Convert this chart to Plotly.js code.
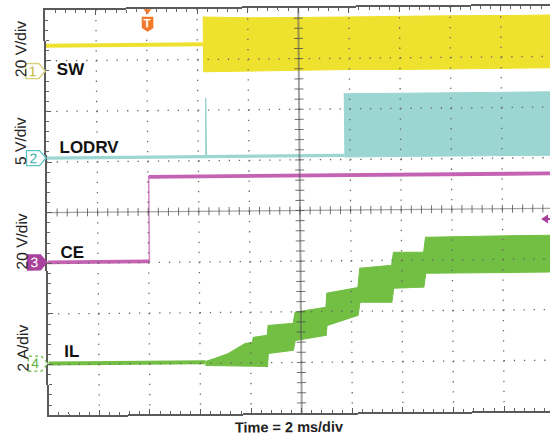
<!DOCTYPE html>
<html><head><meta charset="utf-8">
<script src="https://cdn.plot.ly/plotly-3.0.1.min.js"></script>
<style>
html,body{margin:0;padding:0;background:#fff;overflow:hidden;width:550px;height:439px;}
#wrap{width:550px;height:439px;overflow:hidden;position:relative;background:#fff;}
#chart{width:556px;height:439px;transform:rotate(-0.5deg);transform-origin:300px 210px;}
</style></head><body><div id="wrap"><div id="chart"></div></div>
<script>
// ---- scope settings ----
const timePerDiv = 2;              // ms/div
const trigT = 4.04;                // ms, trigger time
const trigLevelCE = 15.4;          // V on CE channel
const chNames  = ['SW', 'LODRV', 'CE', 'IL'];
const chUnits  = ['20 V/div', '5 V/div', '20 V/div', '2 A/div'];
const chScale  = [20, 5, 20, 2];   // units per div
const chOffset = [2.8, 1.08, -0.98, -2.98]; // ground position, div

// ---- SW (V) ----
const swLowT  = [0, 6.22];
const swLowV  = [10, 10];
const swBandT  = [6.22, 7, 8, 10, 12, 14, 16, 18, 20];
const swBandHi = [20.8, 20.5, 20.3, 20.3, 20.4, 20.3, 20.4, 20.3, 20.4];
const swBandLo = [-0.9, -0.7, -0.6, -0.6, -0.5, -0.6, -0.5, -0.6, -0.5];

// ---- LODRV (V) ----
const lodrvT = [0, 11.77];
const lodrvV = [0, 0];
const lodrvSpikeT = [6.30, 6.31, 6.32];
const lodrvSpikeV = [0, 5.8, 0];
const lodrvBandT  = [11.77, 14, 17, 20];
const lodrvBandHi = [6.1, 6.1, 6.1, 6.1];
const lodrvBandLo = [-0.15, -0.15, -0.15, -0.15];

// ---- CE (V) ----
const ceT = [0, 4.03, 4.03, 20];
const ceV = [0, 0, 33.4, 33.4];

// ---- IL (A) ----
const ilT = [0, 6.21];
const ilV = [0, 0];
const ilHiT = [6.21, 6.61, 7.12, 7.79, 8.07, 8.11, 8.66, 8.70, 9.69, 9.77, 10.99, 11.03, 12.26, 12.34, 13.6, 13.68, 14.87, 14.95, 20];
const ilHi  = [0.03, 0.15, 0.34, 0.73, 0.77, 0.96, 1.04, 1.43, 1.51, 1.94, 2.13, 2.68, 2.90, 3.66, 3.77, 4.28, 4.27, 4.86, 4.90];
const ilLoT = [6.21, 8.66, 8.70, 9.69, 9.77, 10.99, 11.03, 12.26, 12.34, 13.6, 13.68, 14.87, 14.95, 20];
const ilLo  = [-0.13, -0.19, 0.32, 0.44, 0.83, 1.02, 1.41, 1.80, 2.31, 2.30, 2.86, 2.89, 3.44, 3.44];

// ---- styling ----
const colors = ['#efe22e', '#9bd6d3', '#c563b3', '#72bf44'];
const L = 47, T = 8, PW = 506, PH = 405, W = 556, H = 439;
const FONT = 'Liberation Sans, Arial, sans-serif';

function toDiv(ch, arr) { return arr.map(v => v === null ? null : v / chScale[ch] + chOffset[ch]); }
function band(ch, tHi, hi, tLo, lo) {
  return {
    x: tHi.concat(tLo.slice().reverse()),
    y: toDiv(ch, hi).concat(toDiv(ch, lo).slice().reverse()),
    mode: 'lines', fill: 'toself', fillcolor: colors[ch],
    line: {color: colors[ch], width: 1}, hoverinfo: 'skip', showlegend: false
  };
}
function line(ch, t, v, w, color) {
  return {x: t, y: toDiv(ch, v), mode: 'lines', line: {color: color || colors[ch], width: w},
          hoverinfo: 'skip', showlegend: false, connectgaps: false};
}
// split a stepped trace at its vertical edges (thin edge, thick levels)
function levelsOnly(t, v) {
  const xt = [], yv = [];
  for (let i = 0; i < t.length; i++) {
    if (i > 0 && t[i] === t[i - 1]) { xt.push(null); yv.push(null); }
    xt.push(t[i]); yv.push(v[i]);
  }
  return [xt, yv];
}
const xEnd = 10 * timePerDiv;
const ceLv = levelsOnly(ceT, ceV);
const traces = [
  line(0, swLowT, swLowV, 4),
  band(0, swBandT, swBandHi, swBandT, swBandLo),
  line(1, lodrvSpikeT, lodrvSpikeV, 1.3, '#8fd0cd'),
  line(1, lodrvT, lodrvV, 3.2),
  band(1, lodrvBandT, lodrvBandHi, lodrvBandT, lodrvBandLo),
  line(2, ceT, ceV, 1.6, '#d58cc8'),
  line(2, ceLv[0], ceLv[1], 3.8),
  line(3, ilT, ilV, 4),
  band(3, ilHiT, ilHi, ilLoT, ilLo)
];

// pixel helpers for decorations (unrotated frame)
const pxX = p => (p - L) / PW;
const pxY = p => (T + PH - p) / PH;

const shapes = [];
// dotted graticule, drawn above the traces like the scope does
const dotDash = '1.3px,8.82px';
for (let i = 1; i < 10; i++) {
  if (i === 5) continue;
  const xv = i * timePerDiv;
  shapes.push({type: 'line', xref: 'x', yref: 'y', x0: xv, x1: xv, y0: 4, y1: -4,
               line: {color: '#666', width: 1.3, dash: dotDash}, layer: 'above'});
}
for (let j = -3; j <= 3; j++) {
  if (j === 0) continue;
  shapes.push({type: 'line', xref: 'x', yref: 'y', x0: 0, x1: xEnd, y0: j, y1: j,
               line: {color: '#666', width: 1.3, dash: dotDash}, layer: 'above'});
}
// center crosshair
shapes.push({type: 'line', xref: 'x', yref: 'paper', x0: xEnd / 2, x1: xEnd / 2, y0: 0, y1: 1,
             line: {color: 'rgba(90,90,90,0.55)', width: 2}, layer: 'above'});
shapes.push({type: 'line', xref: 'paper', yref: 'y', x0: 0, x1: 1, y0: 0, y1: 0,
             line: {color: 'rgba(90,90,90,0.55)', width: 1.2}, layer: 'above'});
for (let k = 1; k < 50; k++) {
  const xv = k * timePerDiv / 5;
  shapes.push({type: 'line', xref: 'x', yref: 'y', ysizemode: 'pixel', yanchor: 0,
               x0: xv, x1: xv, y0: -4, y1: 4, line: {color: 'rgba(70,70,70,0.75)', width: 1}, layer: 'above'});
}
for (let k = -19; k < 20; k++) {
  const yv = k / 5;
  shapes.push({type: 'line', xref: 'x', yref: 'y', xsizemode: 'pixel', xanchor: xEnd / 2,
               x0: -4.5, x1: 4.5, y0: yv, y1: yv, line: {color: 'rgba(70,70,70,0.75)', width: 1}, layer: 'above'});
}
// channel ground markers
const markerStyles = [
  {fill: '#ffffff', line: '#d9d07a', dash: 'solid', text: '#c4b840'},
  {fill: '#ffffff', line: '#5cc6c4', dash: 'solid', text: '#3bb2b0'},
  {fill: '#a8429c', line: '#a8429c', dash: 'solid', text: '#ffffff'},
  {fill: '#ffffff', line: '#6cc04a', dash: 'dot', text: '#5cb43c'}
];
const annotations = [];
for (let c = 0; c < 4; c++) {
  const yp = (chOffset[c] + 4) / 8;
  const s = markerStyles[c];
  shapes.push({type: 'path', xref: 'paper', yref: 'paper', xsizemode: 'pixel', ysizemode: 'pixel',
               xanchor: 0, yanchor: yp, path: 'M -20,-7.5 H -7 L -0.5,0 L -7,7.5 H -20 Z',
               fillcolor: s.fill, line: {color: s.line, width: 1.3, dash: s.dash}, layer: 'above'});
  annotations.push({xref: 'paper', yref: 'paper', x: 0, y: yp, xshift: -13, yshift: 0,
                    text: String(c + 1), showarrow: false, xanchor: 'center', yanchor: 'middle',
                    font: {family: FONT, size: 14, color: s.text}});
}
// trigger marker
const orange = '#f07a2a';
shapes.push({type: 'path', xref: 'x', yref: 'paper', xsizemode: 'pixel', ysizemode: 'pixel',
             xanchor: trigT, yanchor: 1, path: 'M -4,0 H 4 L 0,-5 Z', fillcolor: orange, line: {width: 0}, layer: 'above'});
shapes.push({type: 'path', xref: 'x', yref: 'paper', xsizemode: 'pixel', ysizemode: 'pixel',
             xanchor: trigT, yanchor: 1, path: 'M -5.8,-7.4 H 5.8 V -18.7 L 0,-22.4 L -5.8,-18.7 Z',
             fillcolor: orange, line: {width: 0}, layer: 'above'});
annotations.push({xref: 'x', yref: 'paper', x: trigT, y: 1, yshift: -13.5, text: '<b>T</b>', showarrow: false,
                  xanchor: 'center', yanchor: 'middle', font: {family: FONT, size: 12, color: '#ffffff'}});
// trigger level arrow (CE)
const trigY = (trigLevelCE / chScale[2] + chOffset[2] + 4) / 8;
shapes.push({type: 'path', xref: 'paper', yref: 'paper', xsizemode: 'pixel', ysizemode: 'pixel',
             xanchor: 1, yanchor: trigY, path: 'M -12,0 L -5,4.5 L -5,-4.5 Z', fillcolor: '#a8429c',
             line: {width: 0}, layer: 'above'});
shapes.push({type: 'line', xref: 'paper', yref: 'paper', xsizemode: 'pixel', ysizemode: 'pixel',
             xanchor: 1, yanchor: trigY, x0: -6, x1: 2, y0: 0, y1: 0, line: {color: '#a8429c', width: 2}, layer: 'above'});

// channel name labels
const labelPos = [[56, 67], [57.5, 145], [58, 250], [60.5, 349]];
for (let c = 0; c < 4; c++) {
  annotations.push({xref: 'paper', yref: 'paper', x: pxX(labelPos[c][0]), y: pxY(labelPos[c][1]),
                    text: '<b>' + chNames[c] + '</b>', showarrow: false, xanchor: 'left', yanchor: 'middle',
                    font: {family: FONT, size: 17, color: '#111'}});
}
// scale labels (rotated)
const unitPos = [47, 139, 239.5, 345.5];
for (let c = 0; c < 4; c++) {
  annotations.push({xref: 'paper', yref: 'paper', x: pxX(21.5), y: pxY(unitPos[c]),
                    text: chUnits[c], showarrow: false, textangle: -90, xanchor: 'center', yanchor: 'middle',
                    font: {family: FONT, size: 15.5, color: '#222'}});
}
annotations.push({xref: 'paper', yref: 'paper', x: pxX(287), y: pxY(427), showarrow: false,
                  text: '<b>Time = ' + timePerDiv + ' ms/div</b>', xanchor: 'center', yanchor: 'middle',
                  font: {family: FONT, size: 14.5, color: '#222'}});

const axCommon = {
  showticklabels: false, showgrid: false,
  zeroline: false, showline: true, linecolor: '#5a5a5a', linewidth: 2,
  ticks: 'inside', ticklen: 5, tickcolor: '#5a5a5a', tickwidth: 1, fixedrange: true
};
const layout = {
  width: W, height: H,
  margin: {l: L, r: W - L - PW, t: T, b: H - T - PH, pad: 0},
  paper_bgcolor: '#ffffff', plot_bgcolor: '#ffffff',
  showlegend: false,
  xaxis: Object.assign({}, axCommon, {range: [0, xEnd], tick0: 0, dtick: timePerDiv, mirror: 'allticks',
          minor: {dtick: timePerDiv / 5, ticks: 'inside', ticklen: 3, tickcolor: '#666', tickwidth: 1, showgrid: false}}),
  yaxis: Object.assign({}, axCommon, {range: [-4, 4], tick0: 0, dtick: 1, mirror: false,
          minor: {dtick: 0.2, ticks: 'inside', ticklen: 3, tickcolor: '#666', tickwidth: 1, showgrid: false}}),
  shapes: shapes,
  annotations: annotations
};
Plotly.newPlot('chart', traces, layout, {displayModeBar: false, staticPlot: true});
</script></body></html>
